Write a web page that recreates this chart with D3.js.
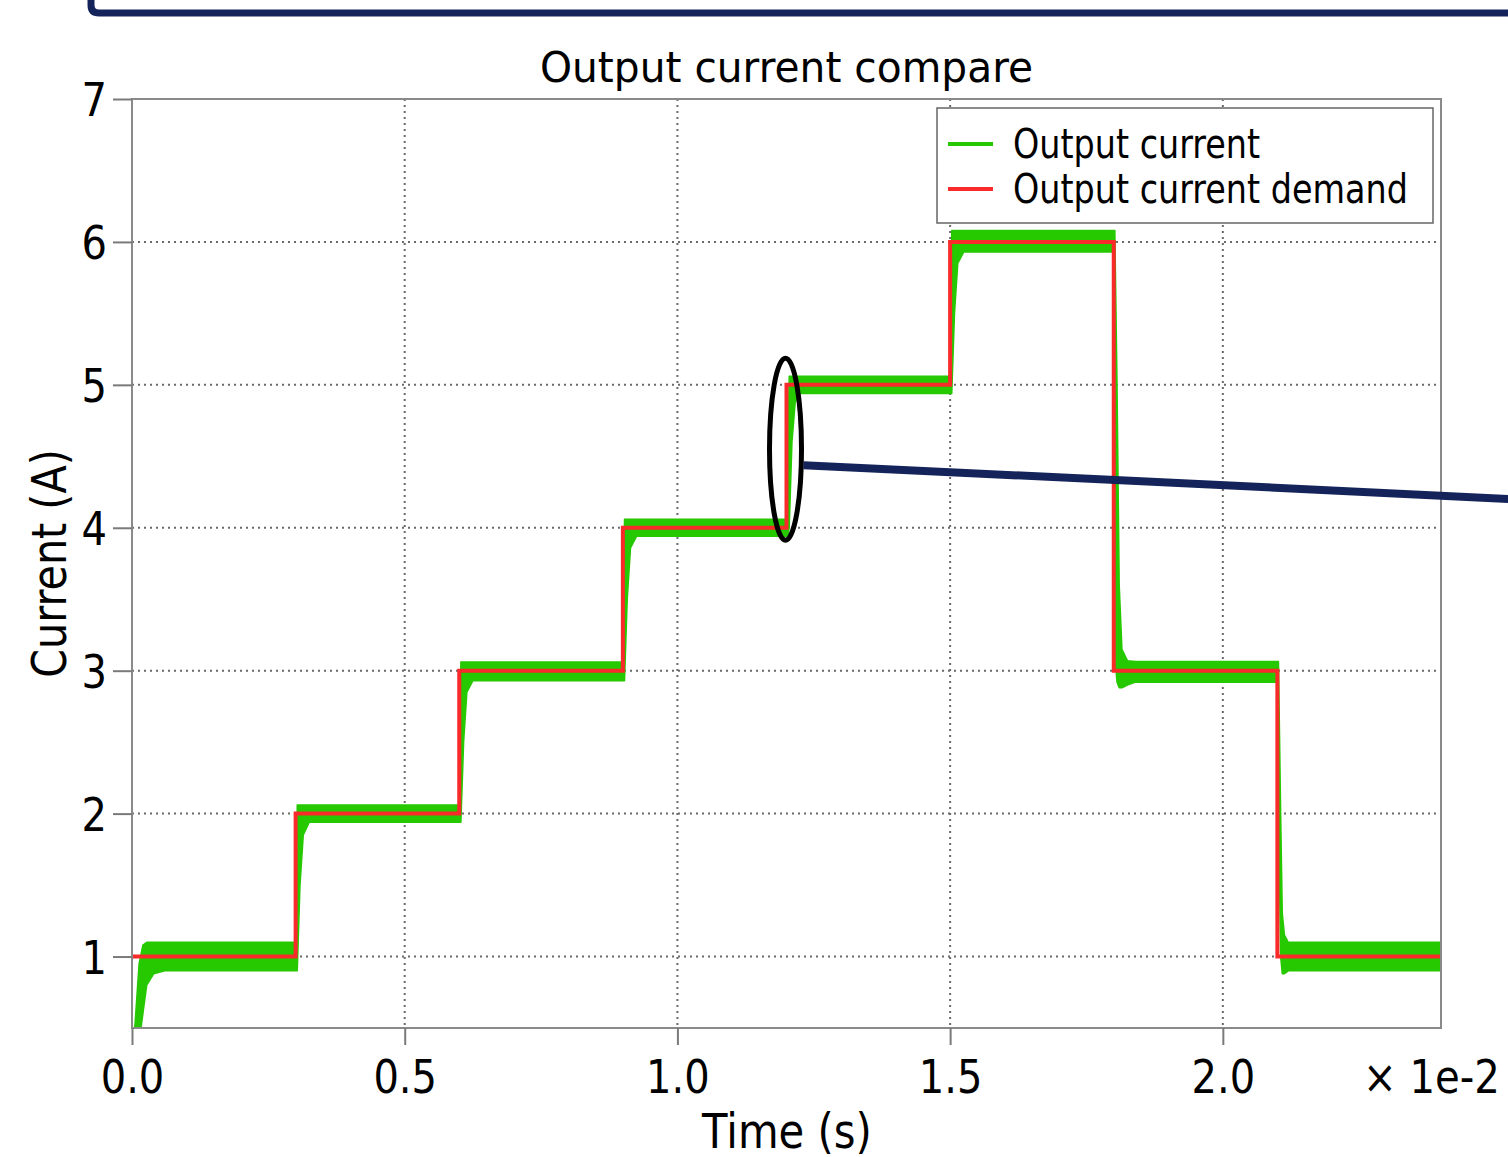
<!DOCTYPE html>
<html>
<head>
<meta charset="utf-8">
<script src="https://cdn.jsdelivr.net/npm/d3@7"></script>
<style>
    body { margin: 0; background: #ffffff; }
    svg text { font-family: "DejaVu Sans", sans-serif; fill: #000000; }
</style>
</head>
<body>
<div id="chart"></div>
<script>

// time is in units of 1e-2 s, current in A
const demandTime = [0, 0.3, 0.6, 0.9, 1.2, 1.5, 1.8, 2.1, 2.4]
const demandCurrent = [1, 2, 3, 4, 5, 6, 3, 1, 1]

// measured output current, read as the lower / upper edge of the noisy band
const outputTime = [0, 0.006, 0.013, 0.020, 0.027, 0.040, 0.060, 0.300,
    0.303, 0.308, 0.314, 0.325, 0.600,
    0.603, 0.608, 0.614, 0.625, 0.900,
    0.903, 0.908, 0.914, 0.925, 1.200,
    1.202, 1.205, 1.210, 1.216, 1.226, 1.500,
    1.503, 1.508, 1.514, 1.525, 1.800,
    1.802, 1.806, 1.810, 1.815, 1.825, 1.840, 2.100,
    2.102, 2.106, 2.109, 2.113, 2.120, 2.400]
const outputLow = [0.3, 0.3, 0.4, 0.6, 0.8, 0.88, 0.9, 0.9,
    0.9, 1.5, 1.85, 1.94, 1.94,
    1.94, 2.5, 2.85, 2.93, 2.93,
    2.93, 3.5, 3.86, 3.94, 3.94,
    3.94, 4.0, 4.6, 4.88, 4.94, 4.94,
    4.94, 5.5, 5.85, 5.93, 5.93,
    3.1, 2.92, 2.88, 2.88, 2.9, 2.92, 2.92,
    2.0, 1.0, 0.88, 0.88, 0.9, 0.9]
const outputHigh = [0.3, 0.55, 0.95, 1.08, 1.1, 1.1, 1.1, 1.1,
    2.06, 2.06, 2.06, 2.06, 2.06,
    3.06, 3.06, 3.06, 3.06, 3.06,
    4.06, 4.06, 4.06, 4.06, 4.06,
    4.5, 5.06, 5.06, 5.06, 5.06, 5.06,
    6.08, 6.08, 6.08, 6.08, 6.08,
    6.08, 5.0, 3.6, 3.15, 3.07, 3.065, 3.065,
    3.065, 2.0, 1.3, 1.15, 1.1, 1.1]

const xTicks = [0, 0.5, 1.0, 1.5, 2.0]
const yTicks = [1, 2, 3, 4, 5, 6, 7]
const xGrid = [0.5, 1.0, 1.5, 2.0]
const yGrid = [1, 2, 3, 4, 5, 6]

const legendNames = ["Output current", "Output current demand"]
const legendColors = ["#26c900", "#f82a2a"]

function squeeze(sel, k){
    sel.each(function(){
        let w = this.getComputedTextLength()
        d3.select(this)
            .attr('textLength', w * k)
            .attr('lengthAdjust', 'spacingAndGlyphs')
    })
}

function output_current_compare(){

    let svgWidth = 1508
    let svgHeight = 1157
    let plot = {left: 132, right: 1441, top: 99, bottom: 1028}

    let svg = d3.select('#chart')
        .append('svg')
            .attr('width', svgWidth)
            .attr('height', svgHeight)

    let x = d3.scaleLinear()
        .domain([0, 2.4])
        .range([plot.left, plot.right])

    let y = d3.scaleLinear()
        .domain([0.5, 7])
        .range([plot.bottom, plot.top])

    svg.append('clipPath')
        .attr('id', 'plot-clip')
        .append('rect')
            .attr('x', plot.left)
            .attr('y', plot.top)
            .attr('width', plot.right - plot.left)
            .attr('height', plot.bottom - plot.top)

    //GRID
    svg.append('g')
        .selectAll('line')
        .data(yGrid)
        .join('line')
            .attr('x1', plot.left)
            .attr('x2', plot.right)
            .attr('y1', d => y(d))
            .attr('y2', d => y(d))
            .attr('stroke', '#6a6a6a')
            .attr('stroke-width', 2)
            .attr('stroke-dasharray', '2,4')

    svg.append('g')
        .selectAll('line')
        .data(xGrid)
        .join('line')
            .attr('x1', d => x(d))
            .attr('x2', d => x(d))
            .attr('y1', plot.top)
            .attr('y2', plot.bottom)
            .attr('stroke', '#6a6a6a')
            .attr('stroke-width', 2)
            .attr('stroke-dasharray', '2,4')

    //OUTPUT CURRENT BAND
    let band = d3.area()
        .x(i => x(outputTime[i]))
        .y0(i => y(outputLow[i]))
        .y1(i => y(outputHigh[i]))

    svg.append('path')
        .datum(d3.range(outputTime.length))
        .attr('clip-path', 'url(#plot-clip)')
        .attr('d', band)
        .attr('fill', legendColors[0])
        .attr('stroke', legendColors[0])
        .attr('stroke-width', 1.5)
        .attr('stroke-linejoin', 'round')

    //DEMAND
    let demandLine = d3.line()
        .x(i => x(demandTime[i]))
        .y(i => y(demandCurrent[i]))
        .curve(d3.curveStepAfter)

    svg.append('path')
        .datum(d3.range(demandTime.length))
        .attr('clip-path', 'url(#plot-clip)')
        .attr('d', demandLine)
        .attr('fill', 'none')
        .attr('stroke', legendColors[1])
        .attr('stroke-width', 4)

    //FRAME
    svg.append('rect')
        .attr('x', plot.left)
        .attr('y', plot.top)
        .attr('width', plot.right - plot.left)
        .attr('height', plot.bottom - plot.top)
        .attr('fill', 'none')
        .attr('stroke', '#8a8a8a')
        .attr('stroke-width', 2)

    //X-AXIS LABELS
    let xAxis = svg.append('g')
        .attr('transform', `translate(0, ${plot.bottom})`)
        .call(d3.axisBottom(x).tickValues(xTicks).tickFormat(d3.format('.1f')).tickSize(17))
        .attr('font-family', '"DejaVu Sans", sans-serif')
        .attr('font-size', 46)
    xAxis.select('.domain').remove()
    xAxis.selectAll('line').attr('stroke', '#7a7a7a').attr('stroke-width', 2)
    xAxis.selectAll('text').attr('y', 65).attr('dy', 0).attr('fill', '#000').call(squeeze, 0.87)

    //Y-AXIS LABELS
    let yAxis = svg.append('g')
        .attr('transform', `translate(${plot.left}, 0)`)
        .call(d3.axisLeft(y).tickValues(yTicks).tickFormat(d3.format('d')).tickSize(19).tickPadding(6))
        .attr('font-family', '"DejaVu Sans", sans-serif')
        .attr('font-size', 46)
    yAxis.select('.domain').remove()
    yAxis.selectAll('line').attr('stroke', '#7a7a7a').attr('stroke-width', 2)
    yAxis.selectAll('text').attr('dy', '0.36em').attr('fill', '#000').call(squeeze, 0.87)

    //TITLES
    svg.append('text')
        .attr('x', (plot.left + plot.right) / 2)
        .attr('y', 82)
        .attr('text-anchor', 'middle')
        .attr('font-size', 42)
        .text('Output current compare')
        .call(squeeze, 0.97)

    svg.append('text')
        .attr('x', 787)
        .attr('y', 1148)
        .attr('text-anchor', 'middle')
        .attr('font-size', 48)
        .text('Time (s)')
        .call(squeeze, 0.87)

    svg.append('text')
        .attr('transform', `translate(66, ${(plot.top + plot.bottom) / 2}) rotate(-90)`)
        .attr('text-anchor', 'middle')
        .attr('font-size', 48)
        .text('Current (A)')
        .call(squeeze, 0.86)

    svg.append('text')
        .attr('x', 1500)
        .attr('y', 1093)
        .attr('text-anchor', 'end')
        .attr('font-size', 46)
        .text('\u00d7 1e-2')
        .call(squeeze, 0.875)

    //LEGEND
    let legend = svg.append('g')
        .attr('transform', 'translate(937, 108)')

    legend.append('rect')
        .attr('width', 496)
        .attr('height', 115)
        .attr('fill', '#ffffff')
        .attr('stroke', '#666666')
        .attr('stroke-width', 1.5)

    let rows = legend.selectAll('g')
        .data(legendNames)
        .join('g')
            .attr('transform', (d, i) => `translate(0, ${36 + i * 45})`)

    rows.append('line')
        .attr('x1', 11)
        .attr('x2', 56)
        .attr('stroke', (d, i) => legendColors[i])
        .attr('stroke-width', 4)

    rows.append('text')
        .attr('x', 76)
        .attr('y', 14)
        .attr('font-size', 40)
        .text(d => d)
        .call(squeeze, 0.835)

    //ANNOTATION
    let cx = x(1.2) - 1
    let cy = y(4.55)

    svg.append('ellipse')
        .attr('cx', cx)
        .attr('cy', cy)
        .attr('rx', 16)
        .attr('ry', 91)
        .attr('fill', 'none')
        .attr('stroke', '#000000')
        .attr('stroke-width', 5)

    svg.append('line')
        .attr('x1', cx + 18)
        .attr('y1', cy + 16)
        .attr('x2', svgWidth + 5)
        .attr('y2', cy + 50)
        .attr('stroke', '#14245a')
        .attr('stroke-width', 8)

    // frame of the slide above the chart
    svg.append('path')
        .attr('d', `M91,-10 L91,5 Q91,13 99,13 L${svgWidth + 10},13`)
        .attr('fill', 'none')
        .attr('stroke', '#14245a')
        .attr('stroke-width', 7)

}

output_current_compare()

</script>
</body>
</html>
